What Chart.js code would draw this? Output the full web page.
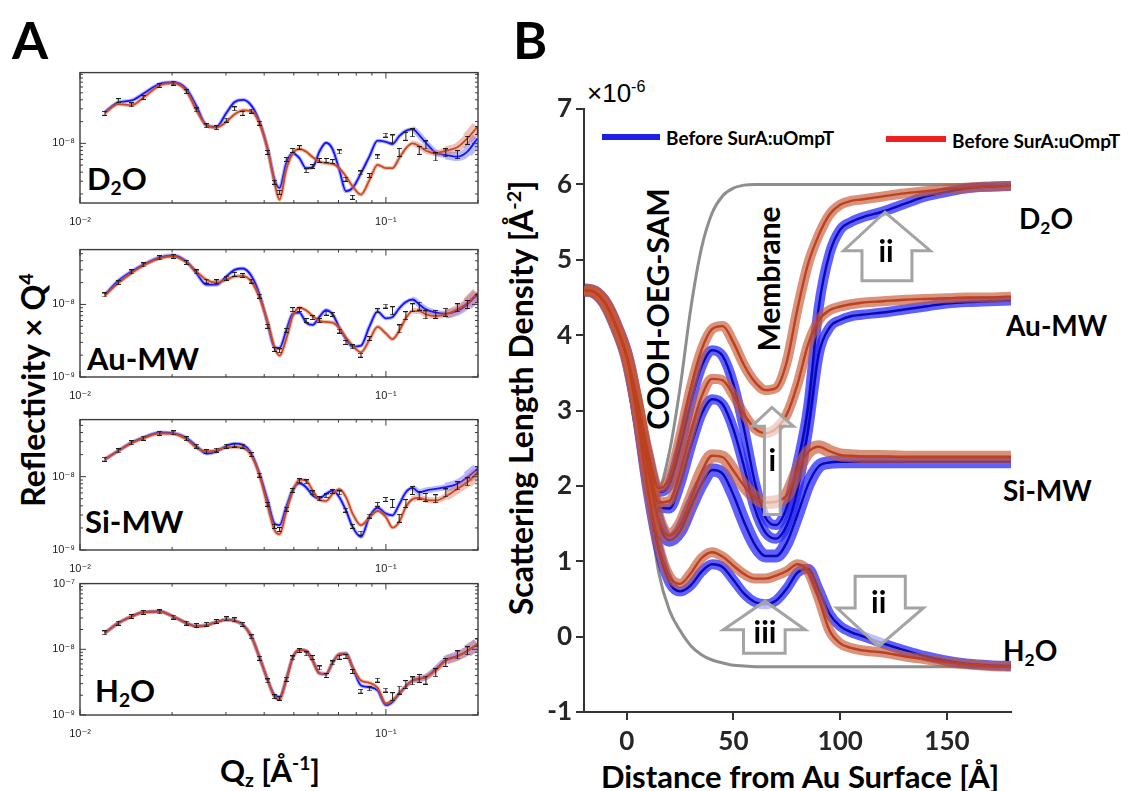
<!DOCTYPE html>
<html>
<head>
<meta charset="utf-8">
<title>Reflectivity and SLD profiles</title>
<script src="https://cdn.jsdelivr.net/npm/chart.js@4.4.1/dist/chart.umd.min.js"></script>
<style>
  html, body { margin: 0; padding: 0; background: #fff; }
  body { position: relative; width: 1144px; height: 791px; overflow: hidden; font-family: Lato, "Noto Sans", sans-serif; }
  canvas { position: absolute; }
  .lbl { position: absolute; white-space: nowrap; font-weight: 700; color: #000; line-height: 1; transform: translate(0, -50%); }
  .mid { transform: translate(-50%, -50%); }
  .rot { transform: translate(-50%, -50%) rotate(-90deg); }
  .lbl sub { font-size: 0.62em; vertical-align: -0.3em; line-height: 0; }
  .lbl sup { font-size: 0.62em; vertical-align: 0.6em; line-height: 0; }
  .key { position: absolute; height: 6px; }
</style>
</head>
<body>
<div class="lbl mid" style="left:30px;top:39px;font-size:52px">A</div>
<div class="lbl mid" style="left:530px;top:39px;font-size:52px">B</div>
<div class="lbl rot" style="left:33px;top:390px;font-size:32px">Reflectivity × Q<sup>4</sup></div>
<div class="lbl mid" style="left:270px;top:770px;font-size:31px">Q<sub>z</sub> [Å<sup>-1</sup>]</div>
<div class="lbl" style="left:87px;top:178px;font-size:31px">D<sub>2</sub>O</div>
<div class="lbl" style="left:87px;top:358px;font-size:31px">Au-MW</div>
<div class="lbl" style="left:85px;top:521px;font-size:31px">Si-MW</div>
<div class="lbl" style="left:95px;top:690px;font-size:31px">H<sub>2</sub>O</div>

<div class="lbl" style="left:587px;top:93px;font-size:26px;font-weight:400;font-family:'Liberation Sans',Arial,sans-serif">×10<sup>-6</sup></div>
<div class="key" style="left:602px;top:134px;width:58px;background:#1e1ee6"></div>
<div class="lbl" style="left:666px;top:137px;font-size:19px">Before SurA:uOmpT</div>
<div class="key" style="left:886px;top:136px;width:60px;background:#f01e1e"></div>
<div class="lbl" style="left:952px;top:140px;font-size:19px">Before SurA:uOmpT</div>
<div class="lbl rot" style="left:521px;top:398px;font-size:32px">Scattering Length Density [Å<sup>-2</sup>]</div>
<div class="lbl mid" style="left:800px;top:776px;font-size:31px">Distance from Au Surface [Å]</div>
<div class="lbl rot" style="left:657px;top:309px;font-size:30px">COOH-OEG-SAM</div>
<div class="lbl rot" style="left:768px;top:279px;font-size:30px">Membrane</div>
<div class="lbl" style="left:1019px;top:218px;font-size:28px">D<sub>2</sub>O</div>
<div class="lbl" style="left:1006px;top:325px;font-size:28px">Au-MW</div>
<div class="lbl" style="left:1003px;top:490px;font-size:28px">Si-MW</div>
<div class="lbl" style="left:1003px;top:650px;font-size:28px">H<sub>2</sub>O</div>

<script>
// ---------- panel A : reflectivity x Q^4 ----------
const qz = [0.01207, 0.01334, 0.01474, 0.01609, 0.01823, 0.02015, 0.02228, 0.02401, 0.02588, 0.02790,
  0.03008, 0.03201, 0.03408, 0.03629, 0.03864, 0.04113, 0.04325, 0.04491, 0.04721, 0.04962,
  0.05217, 0.05484, 0.05766, 0.06061, 0.06372, 0.06699, 0.07042, 0.07404, 0.07783, 0.08289,
  0.08826, 0.09393, 0.1000, 0.1051, 0.1105, 0.1162, 0.1222, 0.1285, 0.1351, 0.1455,
  0.1569, 0.1713, 0.1846, 0.1990];

const d2oBlue = [2.72e-8, 3.68e-8, 3.92e-8, 4.84e-8, 6.64e-8, 7.0e-8, 5.67e-8, 3.28e-8, 1.78e-8, 1.69e-8,
  2.63e-8, 3.72e-8, 4.0e-8, 3.35e-8, 1.98e-8, 8.1e-9, 3.15e-9, 2.42e-9, 5.32e-9, 7.3e-9,
  6.23e-9, 4.55e-9, 4.69e-9, 7.69e-9, 1.02e-8, 8.28e-9, 4.31e-9, 2.18e-9, 2.42e-9, 3.88e-9,
  6.56e-9, 1.09e-8, 1.05e-8, 9.8e-9, 1.26e-8, 1.49e-8, 1.57e-8, 1.3e-8, 1.02e-8, 7.45e-9,
  6.92e-9, 6.56e-9, 7.69e-9, 1.17e-8];
const d2oRed = [2.63e-8, 3.49e-8, 3.35e-8, 4.27e-8, 6.3e-8, 6.78e-8, 5.27e-8, 2.86e-8, 1.78e-8, 1.66e-8,
  1.98e-8, 2.52e-8, 2.86e-8, 2.8e-8, 1.88e-8, 8.1e-9, 2.83e-9, 1.67e-9, 4.31e-9, 7.3e-9,
  8.36e-9, 7.69e-9, 6.43e-9, 5.61e-9, 5.32e-9, 5.21e-9, 4.55e-9, 3.49e-9, 2.55e-9, 1.96e-9,
  3.08e-9, 5.05e-9, 4.55e-9, 4.55e-9, 6.23e-9, 8.55e-9, 1.0e-8, 9.2e-9, 7.94e-9, 7.3e-9,
  7.94e-9, 8.82e-9, 1.17e-8, 1.69e-8];
const d2oData = [2.6e-8, 3.9e-8, 3.4e-8, 4.3e-8, 6.3e-8, 6.8e-8, 5.2e-8, 2.9e-8, 1.75e-8, 1.65e-8,
  2.1e-8, 3.0e-8, 2.6e-8, 2.8e-8, 1.9e-8, 7.5e-9, 2.9e-9, 2.1e-9, 6.0e-9, 8.0e-9,
  8.7e-9, 4.2e-9, 4.8e-9, 5.8e-9, 5.8e-9, 5.6e-9, 7.6e-9, 3.2e-9, 1.8e-9, 3.9e-9,
  3.6e-9, 6.5e-9, 1.3e-8, 1.15e-8, 7.5e-9, 1.25e-8, 1.4e-8, 8.0e-9, 9.5e-9, 6.5e-9,
  7.4e-9, 7.0e-9, 1.1e-8, 1.5e-8];

const auBlue = [1.37e-8, 2.12e-8, 2.85e-8, 3.51e-8, 4.47e-8, 4.76e-8, 3.9e-8, 2.7e-8, 1.87e-8, 1.87e-8,
  2.43e-8, 3.0e-8, 3.13e-8, 2.49e-8, 1.37e-8, 5.33e-9, 2.56e-9, 2.51e-9, 4.33e-9, 7.46e-9,
  7.7e-9, 5.62e-9, 5.23e-9, 6.72e-9, 8.37e-9, 7.3e-9, 4.8e-9, 3.33e-9, 2.62e-9, 2.7e-9,
  4.91e-9, 7.94e-9, 6.44e-9, 6.72e-9, 8.82e-9, 1.08e-8, 1.17e-8, 1.0e-8, 8.55e-9, 7.7e-9,
  7.46e-9, 8.11e-9, 1.0e-8, 1.37e-8];
const auRed = [1.34e-8, 1.97e-8, 2.7e-8, 3.44e-8, 4.33e-8, 4.61e-8, 3.82e-8, 2.85e-8, 2.19e-8, 2.0e-8,
  2.19e-8, 2.43e-8, 2.46e-8, 2.08e-8, 1.23e-8, 5.62e-9, 2.56e-9, 1.97e-9, 3.33e-9, 6.93e-9,
  9.01e-9, 8.29e-9, 6.93e-9, 5.93e-9, 5.74e-9, 5.62e-9, 4.71e-9, 3.51e-9, 2.7e-9, 2.19e-9,
  3.23e-9, 4.91e-9, 3.98e-9, 3.33e-9, 4.33e-9, 6.44e-9, 8.11e-9, 8.11e-9, 7.3e-9, 6.93e-9,
  7.3e-9, 8.55e-9, 1.05e-8, 1.44e-8];
const auData = [1.35e-8, 2.0e-8, 2.8e-8, 3.5e-8, 4.4e-8, 4.6e-8, 3.8e-8, 2.8e-8, 2.1e-8, 2.05e-8,
  2.3e-8, 2.6e-8, 2.5e-8, 2.1e-8, 1.3e-8, 5.0e-9, 2.4e-9, 2.3e-9, 4.4e-9, 8.5e-9,
  8.5e-9, 6.0e-9, 6.6e-9, 6.0e-9, 7.6e-9, 7.3e-9, 4.3e-9, 3.0e-9, 2.6e-9, 2.0e-9,
  3.4e-9, 8.2e-9, 9.5e-9, 8.2e-9, 4.6e-9, 7.0e-9, 9.0e-9, 9.5e-9, 7.2e-9, 7.3e-9,
  7.8e-9, 9.0e-9, 1.0e-8, 1.2e-8];

const siBlue = [1.73e-8, 2.25e-8, 2.91e-8, 3.4e-8, 4.01e-8, 3.93e-8, 3.4e-8, 2.62e-8, 2.07e-8, 2.2e-8,
  2.62e-8, 2.82e-8, 2.71e-8, 2.07e-8, 1.09e-8, 4.64e-9, 2.29e-9, 2.18e-9, 3.85e-9, 6.68e-9,
  8.13e-9, 7.18e-9, 5.54e-9, 5.04e-9, 5.83e-9, 6.47e-9, 5.26e-9, 3.47e-9, 2.07e-9, 1.51e-9,
  2.82e-9, 3.77e-9, 3.13e-9, 2.97e-9, 4.18e-9, 6.14e-9, 7.03e-9, 6.14e-9, 6.47e-9, 6.81e-9,
  7.18e-9, 7.96e-9, 9.8e-9, 1.27e-8];
const siRed = [1.73e-8, 2.25e-8, 2.88e-8, 3.33e-8, 3.89e-8, 3.85e-8, 3.23e-8, 2.49e-8, 2.22e-8, 2.29e-8,
  2.49e-8, 2.54e-8, 2.47e-8, 1.96e-8, 1.03e-8, 3.85e-9, 1.86e-9, 1.64e-9, 3.3e-9, 6.27e-9,
  9.1e-9, 8.83e-9, 6.47e-9, 4.84e-9, 4.64e-9, 5.83e-9, 6.74e-9, 5.26e-9, 3.13e-9, 2.18e-9,
  2.76e-9, 3.4e-9, 2.82e-9, 2.02e-9, 2.41e-9, 3.85e-9, 4.94e-9, 5.15e-9, 4.84e-9, 4.74e-9,
  5.37e-9, 6.81e-9, 8.38e-9, 1.14e-8];
const siData = [1.73e-8, 2.25e-8, 2.9e-8, 3.35e-8, 3.9e-8, 3.95e-8, 3.3e-8, 2.6e-8, 2.2e-8, 2.3e-8,
  2.6e-8, 2.7e-8, 2.6e-8, 2.0e-8, 1.05e-8, 4.2e-9, 2.1e-9, 1.9e-9, 3.6e-9, 6.5e-9,
  8.8e-9, 8.5e-9, 6.0e-9, 5.0e-9, 5.5e-9, 6.3e-9, 6.0e-9, 3.5e-9, 2.1e-9, 1.7e-9,
  2.9e-9, 4.2e-9, 4.9e-9, 4.3e-9, 2.7e-9, 4.3e-9, 6.5e-9, 5.5e-9, 5.2e-9, 5.0e-9,
  6.0e-9, 7.5e-9, 8.5e-9, 1.2e-8];

const h2oBlue = [1.78e-8, 2.51e-8, 3.16e-8, 3.67e-8, 3.76e-8, 3.16e-8, 2.51e-8, 2.24e-8, 2.32e-8, 2.6e-8,
  2.82e-8, 2.72e-8, 2.37e-8, 1.58e-8, 7.5e-9, 3.35e-9, 2.0e-9, 1.88e-9, 3.43e-9, 7.5e-9,
  9.77e-9, 9.44e-9, 6.68e-9, 4.32e-9, 4.22e-9, 6.31e-9, 8.41e-9, 8.61e-9, 5.31e-9, 2.82e-9,
  2.66e-9, 2.37e-9, 1.41e-9, 1.58e-9, 2.11e-9, 2.72e-9, 3.35e-9, 3.55e-9, 3.76e-9, 5.01e-9,
  6.84e-9, 7.94e-9, 9.44e-9, 1.19e-8];
const h2oRed = [1.78e-8, 2.51e-8, 3.16e-8, 3.67e-8, 3.76e-8, 3.16e-8, 2.51e-8, 2.24e-8, 2.32e-8, 2.6e-8,
  2.82e-8, 2.72e-8, 2.37e-8, 1.58e-8, 7.5e-9, 3.35e-9, 1.88e-9, 1.72e-9, 3.43e-9, 7.5e-9,
  9.77e-9, 9.44e-9, 6.68e-9, 4.32e-9, 4.22e-9, 6.31e-9, 8.41e-9, 8.61e-9, 5.31e-9, 3.35e-9,
  3.09e-9, 2.6e-9, 1.5e-9, 1.68e-9, 2.11e-9, 2.72e-9, 3.35e-9, 3.55e-9, 3.76e-9, 4.84e-9,
  6.68e-9, 7.76e-9, 9.44e-9, 1.19e-8];
const h2oData = [1.78e-8, 2.5e-8, 3.15e-8, 3.65e-8, 3.7e-8, 3.1e-8, 2.5e-8, 2.3e-8, 2.4e-8, 2.65e-8,
  2.9e-8, 2.8e-8, 2.4e-8, 1.55e-8, 7.3e-9, 3.3e-9, 1.9e-9, 1.8e-9, 3.5e-9, 7.4e-9,
  9.6e-9, 8.5e-9, 7.5e-9, 5.2e-9, 4.0e-9, 6.2e-9, 7.6e-9, 7.8e-9, 4.6e-9, 2.3e-9,
  2.5e-9, 3.4e-9, 2.4e-9, 1.9e-9, 2.4e-9, 2.9e-9, 3.3e-9, 3.6e-9, 3.4e-9, 4.4e-9,
  6.3e-9, 8.2e-9, 9.5e-9, 1.25e-8];

const qTicks = [0.01, 0.1];

// ---------- panel B : SLD profiles ----------
const zAu = [-20, -15, -10, -5, 0, 5, 10, 15, 20, 25, 30, 35, 40, 45, 50, 55, 60, 65, 70, 75,
  80, 85, 90, 95, 100, 105, 110, 120, 130, 140, 150, 160, 170, 180];

const sldD2oRed = [4.60, 4.57, 4.42, 4.12, 3.72, 3.15, 2.45, 1.97, 2.10, 2.65, 3.30, 3.80, 4.08, 4.12, 3.90,
  3.60, 3.38, 3.27, 3.30, 3.65, 4.35, 4.95, 5.33, 5.60, 5.73, 5.78, 5.80, 5.84, 5.88, 5.91, 5.94, 5.96, 5.97, 5.98];
const sldD2oBlue = [4.60, 4.57, 4.42, 4.12, 3.72, 3.12, 2.42, 1.92, 2.02, 2.50, 3.10, 3.58, 3.80, 3.72, 3.35,
  2.75, 2.05, 1.58, 1.48, 1.72, 2.30, 3.05, 4.38, 5.08, 5.40, 5.50, 5.56, 5.64, 5.74, 5.84, 5.90, 5.95, 5.97, 5.98];
const sldAuRed = [4.60, 4.57, 4.42, 4.12, 3.72, 3.10, 2.35, 1.78, 1.80, 2.18, 2.72, 3.18, 3.42, 3.40, 3.20,
  2.95, 2.76, 2.70, 2.76, 2.95, 3.35, 3.88, 4.20, 4.33, 4.38, 4.41, 4.43, 4.45, 4.47, 4.48, 4.49, 4.50, 4.50, 4.51];
const sldAuBlue = [4.60, 4.57, 4.42, 4.12, 3.72, 3.08, 2.32, 1.72, 1.70, 2.02, 2.52, 2.95, 3.15, 3.08, 2.75,
  2.25, 1.70, 1.38, 1.30, 1.48, 1.95, 2.75, 3.75, 4.10, 4.20, 4.25, 4.27, 4.30, 4.34, 4.38, 4.42, 4.44, 4.45, 4.46];
const sldSiRed = [4.60, 4.57, 4.42, 4.12, 3.72, 3.05, 2.20, 1.55, 1.34, 1.48, 1.82, 2.18, 2.40, 2.38, 2.20,
  2.00, 1.85, 1.78, 1.79, 1.88, 2.20, 2.45, 2.52, 2.46, 2.41, 2.40, 2.39, 2.39, 2.38, 2.38, 2.38, 2.38, 2.38, 2.38];
const sldSiBlue = [4.60, 4.57, 4.42, 4.12, 3.72, 3.02, 2.15, 1.50, 1.28, 1.40, 1.72, 2.02, 2.21, 2.16, 1.88,
  1.52, 1.22, 1.07, 1.07, 1.25, 1.62, 2.02, 2.26, 2.31, 2.32, 2.32, 2.32, 2.32, 2.32, 2.32, 2.32, 2.32, 2.32, 2.32];
const sldH2oRed = [4.60, 4.57, 4.42, 4.12, 3.72, 2.90, 1.95, 1.20, 0.80, 0.70, 0.84, 1.04, 1.12, 1.06, 0.94,
  0.83, 0.77, 0.77, 0.81, 0.87, 0.96, 0.86, 0.50, 0.08, -0.09, -0.15, -0.18, -0.21, -0.26, -0.30, -0.34, -0.37, -0.39, -0.40];
const sldH2oBlue = [4.60, 4.57, 4.42, 4.12, 3.72, 2.88, 1.90, 1.15, 0.72, 0.60, 0.68, 0.86, 0.96, 0.92, 0.75,
  0.57, 0.46, 0.43, 0.48, 0.64, 0.85, 0.90, 0.62, 0.30, 0.14, 0.06, 0.01, -0.09, -0.18, -0.26, -0.32, -0.36, -0.38, -0.39];
const samD2o = [4.60, 4.57, 4.42, 4.12, 3.72, 3.10, 2.35, 1.98, 2.45, 3.30, 4.35, 5.15, 5.62, 5.85, 5.95,
  5.99, 6.00, 6.00, 6.00, 6.00, 6.00, 6.00, 6.00, 6.00, 6.00, 6.00, 6.00, 6.00, 6.00, 6.00, 6.00, 6.00, 6.00, 6.00];
const samH2o = [4.60, 4.57, 4.42, 4.12, 3.72, 2.95, 1.85, 0.85, 0.35, 0.08, -0.12, -0.24, -0.31, -0.35, -0.38,
  -0.39, -0.40, -0.40, -0.40, -0.40, -0.40, -0.40, -0.40, -0.40, -0.40, -0.40, -0.40, -0.40, -0.40, -0.40, -0.40, -0.40, -0.40, -0.40];

const zTicks = [0, 50, 100, 150];
const sldTicks = [-1, 0, 1, 2, 3, 4, 5, 6, 7];

// ---------- helpers ----------
const SUP = { '-': '⁻', '0': '⁰', '1': '¹', '2': '²', '3': '³', '4': '⁴', '5': '⁵', '6': '⁶', '7': '⁷', '8': '⁸', '9': '⁹' };
function pow10Label(v) {
  const e = Math.round(Math.log10(v));
  return '10' + String(e).split('').map(c => SUP[c]).join('');
}
function xy(xs, ys) { return xs.map((x, i) => ({ x: x, y: ys[i] })); }
function addCanvas(left, top, w, h) {
  const c = document.createElement('canvas');
  c.width = w; c.height = h;
  c.style.left = left + 'px'; c.style.top = top + 'px';
  document.body.appendChild(c);
  return c;
}
function errGlyph(h) {
  const c = document.createElement('canvas');
  c.width = 5; c.height = h;
  const g = c.getContext('2d');
  g.fillStyle = '#1e1e1e';
  g.fillRect(2, 0, 1, h);
  g.fillRect(0, 0, 5, 1);
  g.fillRect(0, h - 1, 5, 1);
  return c;
}
const barShort = errGlyph(5), barTall = errGlyph(9);

// matlab style box with inward ticks
const matlabBox = {
  id: 'matlabBox',
  afterDatasetsDraw(chart) {
    const { ctx, chartArea: a, scales: { x, y } } = chart;
    const run = (scale, fn) => {
      const lo = Math.floor(Math.log10(scale.min)), hi = Math.ceil(Math.log10(scale.max));
      for (let e = lo; e <= hi; e++) {
        for (let m = 1; m <= 9; m++) {
          const v = m * Math.pow(10, e);
          if (v < scale.min * 0.999 || v > scale.max * 1.001) continue;
          fn(scale.getPixelForValue(v), m === 1 ? 6 : 3);
        }
      }
    };
    ctx.save();
    ctx.strokeStyle = '#3c3c3c';
    ctx.lineWidth = 1;
    ctx.beginPath();
    run(x, (px, len) => { ctx.moveTo(px, a.bottom); ctx.lineTo(px, a.bottom - len); ctx.moveTo(px, a.top); ctx.lineTo(px, a.top + len); });
    run(y, (py, len) => { ctx.moveTo(a.left, py); ctx.lineTo(a.left + len, py); ctx.moveTo(a.right, py); ctx.lineTo(a.right - len, py); });
    ctx.stroke();
    ctx.lineWidth = 1.4;
    ctx.strokeRect(a.left, a.top, a.right - a.left, a.bottom - a.top);
    ctx.restore();
  }
};

const tickFontA = { family: "'Liberation Sans', 'DejaVu Sans', sans-serif", size: 11 };
function bandWidth(c) {
  const q = c.p0.parsed.x;
  return q < 0.12 ? 4 : q < 0.15 ? 6 : q < 0.175 ? 9 : 12;
}

function reflPanel(top, h, yMin, yMax, blue, red, pts) {
  const cv = addCanvas(0, top - 10, 490, h + 40);
  new Chart(cv, {
    type: 'line',
    data: {
      datasets: [
        { data: xy(qz, pts), showLine: false, pointRadius: 3, pointStyle: c => (c.raw && c.raw.x > 0.1 ? barTall : barShort), order: 1 },
        { data: xy(qz, red), borderColor: '#cc4a22', borderWidth: 1.8, pointRadius: 0, cubicInterpolationMode: 'monotone', order: 2 },
        { data: xy(qz, red), borderColor: 'rgba(215,110,80,0.42)', borderWidth: 4, segment: { borderWidth: bandWidth }, pointRadius: 0, cubicInterpolationMode: 'monotone', order: 3 },
        { data: xy(qz, blue), borderColor: '#1414ff', borderWidth: 1.8, pointRadius: 0, cubicInterpolationMode: 'monotone', order: 4 },
        { data: xy(qz, blue), borderColor: 'rgba(70,70,255,0.38)', borderWidth: 4, segment: { borderWidth: bandWidth }, pointRadius: 0, cubicInterpolationMode: 'monotone', order: 5 }
      ]
    },
    options: {
      responsive: false,
      animation: false,
      layout: { padding: { top: 10, right: 12, left: 0, bottom: 0 } },
      plugins: { legend: { display: false }, tooltip: { enabled: false } },
      scales: {
        x: {
          type: 'logarithmic', min: 0.01, max: 0.2,
          afterBuildTicks: s => { s.ticks = qTicks.map(v => ({ value: v })); },
          afterFit: s => { s.height = 30; },
          grid: { display: false, drawTicks: false },
          border: { display: false },
          ticks: { callback: v => pow10Label(v), font: tickFontA, color: '#222', padding: 12, maxRotation: 0, autoSkip: false }
        },
        y: {
          type: 'logarithmic', min: yMin, max: yMax,
          afterBuildTicks: s => {
            const t = [];
            for (let e = -10; e <= -6; e++) { const v = Math.pow(10, e); if (v >= yMin * 0.999 && v <= yMax * 1.001) t.push({ value: v }); }
            s.ticks = t;
          },
          afterFit: s => { s.width = 80; },
          grid: { display: false, drawTicks: false },
          border: { display: false },
          ticks: { callback: v => pow10Label(v), font: tickFontA, color: '#222', padding: 5, autoSkip: false }
        }
      }
    },
    plugins: [matlabBox]
  });
}

reflPanel(71, 132, 1.5e-9, 9.5e-8, d2oBlue, d2oRed, d2oData);
reflPanel(248, 129, 1e-9, 5.7e-8, auBlue, auRed, auData);
reflPanel(418, 132, 1e-9, 6e-8, siBlue, siRed, siData);
reflPanel(582, 133, 1e-9, 1e-7, h2oBlue, h2oRed, h2oData);

// ---------- panel B chart ----------
const arrows = [
  { tip: [121, 5.63], headY: 5.12, headX: [101.6, 142.2], shaftX: [110.2, 133.6], endY: 4.72, label: 'ii', at: [121.5, 5.1] },
  { tip: [68, 3.04], headY: 2.79, headX: [58.6, 78.1], shaftX: [64.5, 71.9], endY: 1.62, label: 'i', at: [68.2, 2.32] },
  { tip: [64.8, 0.47], headY: 0.09, headX: [45.3, 83.6], shaftX: [54.7, 74.2], endY: -0.22, label: 'iii', at: [64.8, 0.05] },
  { tip: [118, -0.13], headY: 0.38, headX: [98.5, 139], shaftX: [107, 130.5], endY: 0.8, label: 'ii', at: [118, 0.44] }
];
const arrowPlugin = {
  id: 'blockArrows',
  afterDatasetsDraw(chart) {
    const { ctx, scales: { x, y } } = chart;
    ctx.save();
    for (const a of arrows) {
      const P = (u, v) => [x.getPixelForValue(u), y.getPixelForValue(v)];
      const pts = [
        P(a.shaftX[0], a.endY), P(a.shaftX[0], a.headY), P(a.headX[0], a.headY), P(a.tip[0], a.tip[1]),
        P(a.headX[1], a.headY), P(a.shaftX[1], a.headY), P(a.shaftX[1], a.endY)
      ];
      ctx.beginPath();
      pts.forEach((p, i) => (i ? ctx.lineTo(p[0], p[1]) : ctx.moveTo(p[0], p[1])));
      ctx.closePath();
      ctx.fillStyle = 'rgba(255,255,255,0.6)';
      ctx.fill();
      ctx.strokeStyle = '#a4a4a4';
      ctx.lineWidth = 3;
      ctx.lineJoin = 'miter';
      ctx.stroke();
      ctx.fillStyle = '#000';
      ctx.font = 'bold 30px Lato, sans-serif';
      ctx.textAlign = 'center';
      ctx.textBaseline = 'middle';
      const t = P(a.at[0], a.at[1]);
      ctx.fillText(a.label, t[0], t[1]);
    }
    ctx.restore();
  }
};

const blueBand = 'rgba(35,35,255,0.72)', blueLine = '#0a0ab4';
const redBand = 'rgba(200,90,55,0.66)', redLine = '#bb4120';
function profile(ys, band, line, bw, ord) {
  return [
    { data: xy(zAu, ys), borderColor: line, borderWidth: 2.4, pointRadius: 0, cubicInterpolationMode: 'monotone', order: ord },
    { data: xy(zAu, ys), borderColor: band, borderWidth: bw, pointRadius: 0, cubicInterpolationMode: 'monotone', order: ord + 1 }
  ];
}
const tickFontB = { family: 'Lato, sans-serif', size: 26, weight: 'bold' };
const cvB = addCanvas(503, 60, 517, 731);
new Chart(cvB, {
  type: 'line',
  data: {
    datasets: [
      { data: xy(zAu, samD2o), borderColor: '#8e8e8e', borderWidth: 3, pointRadius: 0, cubicInterpolationMode: 'monotone', order: 100 },
      { data: xy(zAu, samH2o), borderColor: '#8e8e8e', borderWidth: 3, pointRadius: 0, cubicInterpolationMode: 'monotone', order: 100 },
      ...profile(sldD2oBlue, blueBand, blueLine, 10, 60),
      ...profile(sldAuBlue, blueBand, blueLine, 10, 60),
      ...profile(sldSiBlue, blueBand, blueLine, 13, 60),
      ...profile(sldH2oBlue, blueBand, blueLine, 10, 60),
      ...profile(sldD2oRed, redBand, redLine, 10, 20),
      ...profile(sldAuRed, redBand, redLine, 10, 20),
      ...profile(sldSiRed, redBand, redLine, 13, 20),
      ...profile(sldH2oRed, redBand, redLine, 10, 20)
    ]
  },
  options: {
    responsive: false,
    animation: false,
    layout: { padding: { top: 49, right: 9, left: 0, bottom: 0 } },
    plugins: { legend: { display: false }, tooltip: { enabled: false } },
    scales: {
      x: {
        type: 'linear', min: -20, max: 180,
        afterBuildTicks: s => { s.ticks = zTicks.map(v => ({ value: v })); },
        afterFit: s => { s.height = 79; },
        grid: { display: true, drawOnChartArea: false, drawTicks: true, tickLength: 8, color: '#333', lineWidth: 2 },
        border: { display: true, color: '#333', width: 2 },
        ticks: { font: tickFontB, color: '#262626', padding: 6, maxRotation: 0, autoSkip: false }
      },
      y: {
        type: 'linear', min: -1, max: 7,
        afterBuildTicks: s => { s.ticks = sldTicks.map(v => ({ value: v })); },
        afterFit: s => { s.width = 81; },
        grid: { display: true, drawOnChartArea: false, drawTicks: true, tickLength: 8, color: '#333', lineWidth: 2 },
        border: { display: true, color: '#333', width: 2 },
        ticks: { font: tickFontB, color: '#262626', padding: 4, autoSkip: false }
      }
    }
  },
  plugins: [arrowPlugin]
});
</script>
</body>
</html>
